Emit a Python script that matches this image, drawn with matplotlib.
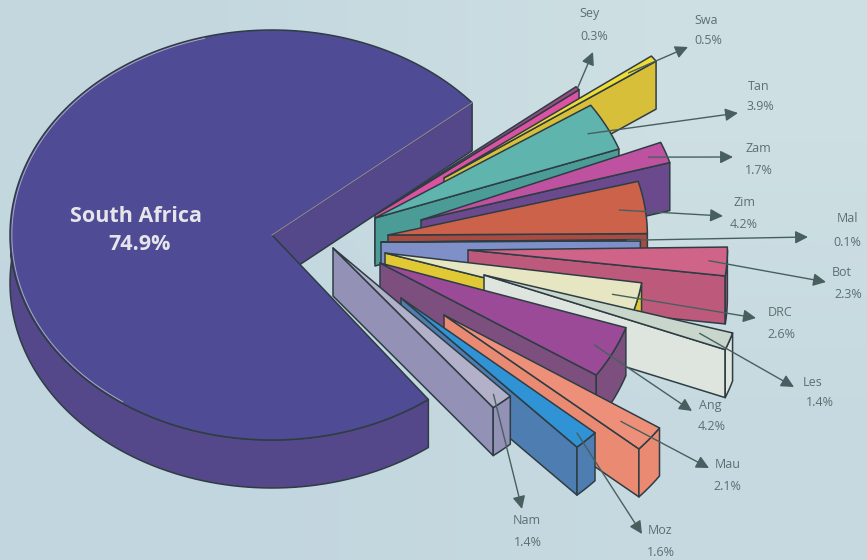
"""
Exploded 3D pie of regional shares, drawn with plain polygons in pixel-like axes.
"""

import matplotlib
matplotlib.use('Agg')
import matplotlib.pyplot as plt
import numpy as np
from matplotlib.colors import LinearSegmentedColormap
from matplotlib.patches import Polygon

plt.rcParams['font.family'] = ['Open Sans', 'DejaVu Sans']

# Shares, in the order they run clockwise out of the big slice
main_name = 'South Africa'
main_share = 74.9
names = ['Sey', 'Swa', 'Tan', 'Zam', 'Zim', 'Mal', 'Bot', 'DRC', 'Les', 'Ang', 'Mau', 'Moz', 'Nam']
shares = [0.3, 0.5, 3.9, 1.7, 4.2, 0.1, 2.3, 2.6, 1.4, 4.2, 2.1, 1.6, 1.4]

# Pie shape
center = np.array([272., 235.])
RX, RY = 262., 205.
DEPTH = 48.
SLICE_R = 0.99
MAIN_START = 40.2

# Layout of the pulled-out slices
apex_x = [375, 444, 375, 421, 388, 381, 468, 385, 484, 380, 444, 401, 333]
apex_y = [215, 178, 218, 220, 235, 242, 250, 253, 275, 263, 315, 298, 248]
angle_nudge = [-1.0, -2.2, -3.6, -1.0, -2.1, -1.8, -1.3, -2.4, -1.3, 1.7, 1.4, 1.1, 1.5]
leader_frac = [1.0, 0.88, 0.92, 0.93, 0.90, 0.95, 0.93, 0.90, 0.88, 0.92, 0.86, 0.95, 0.95]
tip_x = [593, 688, 738, 733, 723, 808, 826, 756, 794, 692, 709, 642, 522]
tip_y = [52, 47, 113, 157, 216, 237, 282, 318, 387, 411, 468, 534, 509]
name_x = [590, 706, 759, 758, 744, 847, 842, 780, 813, 710, 728, 660, 527]
name_y = [14, 20, 86, 148, 203, 219, 272, 313, 382, 405, 465, 531, 521]
pct_x = [594, 708, 760, 759, 744, 847, 848, 781, 820, 712, 727, 661, 528]
pct_y = [36, 41, 107, 170, 225, 242, 295, 335, 403, 427, 487, 552, 543]

top_colors = ['#9c4a84', '#efdc34', '#5fb4ad', '#bf52a0', '#cc6249', '#7f90c8', '#cf6488',
              '#e6e6c3', '#c9d6cc', '#9b4a98', '#ee9079', '#2f93d6', '#b3b1c9']
wall_colors = ['#dc52a2', '#d8bf3a', '#4b9c96', '#6a4a8c', '#a84c42', '#7f90c8', '#bd5a7c',
               '#e0c934', '#dde5de', '#7d4f7e', '#ea8a72', '#4e7db1', '#9391b6']
EDGE = '#2e3d44'
TEXT = '#5e6f71'
ARROW = '#47605f'


def rim(apex, radius, deg):
    """Points on the rim of a slice whose tip sits at apex."""
    a = np.radians(deg)
    return np.column_stack([apex[0] + radius * RX * np.cos(a), apex[1] - radius * RY * np.sin(a)])


def add_poly(ax, pts, color, z, lw=1.1):
    ax.add_patch(Polygon(pts, closed=True, facecolor=color, edgecolor=EDGE, linewidth=lw,
                         joinstyle='round', zorder=z))


def draw_slice(ax, apex, lower, upper, top, wall, z):
    """Side faces first, then the top, so that the top stays clean."""
    down = np.array([0, DEPTH])
    corner = rim(apex, SLICE_R, np.array([lower]))
    cut = np.vstack([apex, corner, corner + down, apex + down])
    add_poly(ax, cut, wall, z)
    if lower < 0:
        # the part of the rim that faces the viewer
        arc = rim(apex, SLICE_R, np.linspace(lower, min(upper, 0), 12))
        add_poly(ax, np.vstack([arc, (arc + down)[::-1]]), wall, z)
    arc = rim(apex, SLICE_R, np.linspace(lower, upper, 24))
    add_poly(ax, np.vstack([apex, arc]), top, z + 0.1)


fig, ax = plt.subplots(figsize=(8.67, 5.6), dpi=100)
fig.subplots_adjust(left=0, right=1, top=1, bottom=0)
ax.set_xlim(0, 867)
ax.set_ylim(560, 0)
ax.axis('off')

# Paper tone, a little lighter towards the upper right
paper = LinearSegmentedColormap.from_list('paper', ['#c2d6df', '#cddfe2'])
ax.imshow(np.array([[0.2, 1.0], [0.0, 0.4]]), cmap=paper, extent=(0, 867, 560, 0), aspect='auto',
          interpolation='bilinear', vmin=0, vmax=1, zorder=0)

# Angle per percentage point; the shares add up to a little over 100
total = main_share + sum(shares)
per_pct = 360. / total
main_end = MAIN_START + main_share * per_pct

# Big slice. The underside starts a bit above the widest point, which leaves a small
# notch where the rim meets the top
down = np.array([0, DEPTH])
under_arc = rim(center, 1.0, np.linspace(174, main_end, 80)) + down
side_arc = rim(center, 1.0, np.linspace(185, main_end, 80))
add_poly(ax, np.vstack([under_arc, side_arc[::-1]]), '#55488a', 1)
upper_end = rim(center, 1.0, np.array([MAIN_START]))
add_poly(ax, np.vstack([center, upper_end, upper_end + down, center + down]), '#55488a', 1)
top_arc = rim(center, 1.0, np.linspace(MAIN_START, main_end, 200))
add_poly(ax, np.vstack([center, top_arc]), '#4f4b95', 2)
pale_arc = rim(center, 0.993, np.linspace(105, 235, 80))
ax.plot(pale_arc[:, 0], pale_arc[:, 1], color='#a9a7c4', lw=0.7, zorder=2.2)
ax.plot([center[0], upper_end[0, 0]], [center[1], upper_end[0, 1]], color='#8f7fa8', lw=0.9, zorder=2.2)

ax.text(136, 216, main_name, color='#e6e6ea', fontsize=15.5, fontweight='bold', ha='center', va='center',
        zorder=20)
ax.text(140, 245, f'{main_share}%', color='#e6e6ea', fontsize=15.5, fontweight='bold', ha='center',
        va='center', zorder=20)

# Walk upwards from the end of the big slice to get each slice's lower angle
lowers = []
running = main_end - 360.
for share in shares[::-1]:
    lowers.append(running)
    running += share * per_pct
lowers = lowers[::-1]

# Small slices, back to front
for i, name in enumerate(names):
    apex = np.array([apex_x[i], apex_y[i]], dtype=float)
    lower = lowers[i] + angle_nudge[i]
    upper = lower + shares[i] * per_pct
    draw_slice(ax, apex, lower, upper, top_colors[i], wall_colors[i], 3 + i)

    # Leader from inside the slice out to the label
    mid = rim(apex, SLICE_R * leader_frac[i], np.array([(lower + upper) / 2]))[0]
    ax.annotate('', xy=(tip_x[i], tip_y[i]), xytext=mid, zorder=18,
                arrowprops=dict(arrowstyle='-|>,head_length=0.7,head_width=0.35', color=ARROW, lw=1.0,
                                mutation_scale=11, shrinkA=0, shrinkB=0))
    ax.text(name_x[i], name_y[i], name, color=TEXT, fontsize=9, ha='center', va='center', zorder=20)
    ax.text(pct_x[i], pct_y[i], f'{shares[i]}%', color=TEXT, fontsize=9, ha='center', va='center', zorder=20)

fig.savefig('out.png', dpi=100)
